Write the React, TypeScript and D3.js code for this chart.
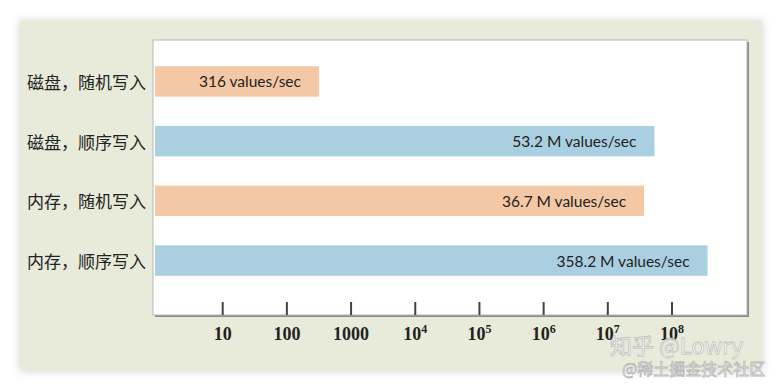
import React from 'react';
import * as d3 from 'd3';

// write throughput, values/sec (log axis)
const categories = ['磁盘，随机写入', '磁盘，顺序写入', '内存，随机写入', '内存，顺序写入'];
const values = [316, 53.2e6, 36.7e6, 358.2e6];
const valueLabels = ['316 values/sec', '53.2 M values/sec', '36.7 M values/sec', '358.2 M values/sec'];
const kinds = ['random', 'sequential', 'random', 'sequential'];

const tickValues = [10, 1e2, 1e3, 1e4, 1e5, 1e6, 1e7, 1e8];
const tickBases = ['10', '100', '1000', '10', '10', '10', '10', '10'];
const tickExps = ['', '', '', '4', '5', '6', '7', '8'];

const W = 782;
const H = 390;
const plot = { left: 153, top: 40, right: 747, bottom: 315 };

const App = () => {
    const x = d3.scaleLog().domain([10, 1e8]).range([222.7, 672]);
    const y = d3
        .scaleBand()
        .domain(categories)
        .range([51.6, 290.4])
        .paddingInner(0.49)
        .paddingOuter(0.245);
    const color = d3
        .scaleOrdinal<string, string>()
        .domain(['random', 'sequential'])
        .range(['#f5c8a5', '#aacfe1']);

    return (
        <svg
            width={W}
            height={H}
            style={{ position: 'fixed', left: 0, top: 0, background: '#fff' }}
        >
            <defs>
                <filter id="panelShadow" x="-5%" y="-10%" width="110%" height="120%">
                    <feDropShadow dx="0" dy="1" stdDeviation="5" floodColor="#000" floodOpacity="0.18" />
                </filter>
            </defs>

            {/* outer panel */}
            <rect x={20} y={20} width={742} height={350} fill="#e8ebd9" filter="url(#panelShadow)" />

            {/* plot area */}
            <rect
                x={plot.left + 2}
                y={plot.top + 2}
                width={plot.right - plot.left}
                height={plot.bottom - plot.top}
                fill="#8a8a8a"
            />
            <rect
                x={plot.left}
                y={plot.top}
                width={plot.right - plot.left}
                height={plot.bottom - plot.top}
                fill="#fff"
                stroke="#b8b8b8"
                strokeWidth={1}
            />

            {/* bars */}
            {categories.map((c, i) => (
                <g key={c}>
                    <rect
                        x={plot.left + 2}
                        y={y(c)}
                        width={x(values[i]) - plot.left - 2}
                        height={y.bandwidth()}
                        fill={color(kinds[i])}
                    />
                    <text
                        x={x(values[i]) - 18}
                        y={(y(c) as number) + y.bandwidth() / 2}
                        dominantBaseline="central"
                        textAnchor="end"
                        fontFamily="Lato, 'Open Sans', sans-serif"
                        fontSize={15.5}
                        fill="#222"
                    >
                        {valueLabels[i]}
                    </text>
                    <text
                        x={146}
                        y={(y(c) as number) + y.bandwidth() / 2}
                        dominantBaseline="central"
                        textAnchor="end"
                        fontFamily="'Noto Sans CJK SC', sans-serif"
                        fontSize={17}
                        fill="#222"
                    >
                        {c}
                    </text>
                </g>
            ))}

            {/* x axis ticks */}
            {tickValues.map((t, i) => (
                <g key={t} transform={`translate(${x(t)},0)`}>
                    <line y1={plot.bottom} y2={plot.bottom - 13} stroke="#444" strokeWidth={2} />
                    <text
                        y={340}
                        textAnchor="middle"
                        fontFamily="'Liberation Serif', 'DejaVu Serif', serif"
                        fontWeight="bold"
                        fontSize={18}
                        fill="#222"
                    >
                        {tickBases[i]}
                        {tickExps[i] && (
                            <tspan fontSize={12} dy={-7}>
                                {tickExps[i]}
                            </tspan>
                        )}
                    </text>
                </g>
            ))}

            {/* watermarks */}
            <text
                x={610}
                y={354}
                fontFamily="'Noto Sans CJK SC', sans-serif"
                fontSize={22}
                fill="#fff"
                fillOpacity={0.9}
                stroke="#9a9a9a"
                strokeOpacity={0.6}
                strokeWidth={0.8}
            >
                知乎 @Lowry
            </text>
            <text
                x={622}
                y={375}
                fontFamily="'Noto Sans CJK SC', sans-serif"
                fontSize={16}
                fill="#fff"
                stroke="#9a9a9a"
                strokeOpacity={0.7}
                strokeWidth={0.8}
            >
                @稀土掘金技术社区
            </text>
        </svg>
    );
};

export default App;
